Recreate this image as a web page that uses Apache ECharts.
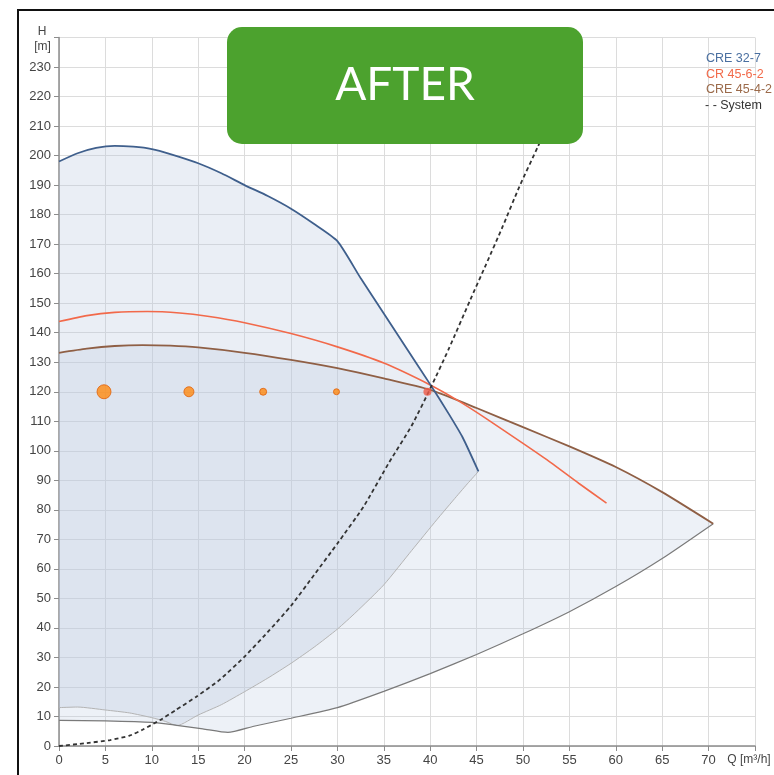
<!DOCTYPE html>
<html><head><meta charset="utf-8">
<script src="https://cdn.jsdelivr.net/npm/echarts@6/dist/echarts.min.js"></script>
<style>html,body{margin:0;padding:0;background:#fff}#c{width:774px;height:775px}</style>
</head><body><div id="c"></div>
<script>
// ---- data (Q [m3/h], H [m]) ----
const cre327 = [[0,198],[2,200.8],[4,202.6],[6,203.3],[8,203],[10,202.2],[12,200.5],[15,197.4],[17.5,194],[20,190],[22.5,186.3],[25,182],[27.5,176.8],[30,171],[32.5,158.5],[35,146.5],[37.5,134.5],[40,122.5],[42,112.5],[43.5,104.5],[45.2,93]];
const cre327Lower = [[45.2,93],[44,88.8],[42.5,83.3],[40.7,76.6],[38,66.2],[35,54.6],[32,45.3],[30,39.6],[27.5,33.5],[25,28],[22.5,23],[20,18.4],[17.5,14],[15,10.5],[12.7,6.9]];
const cre327Left = [[12.7,6.9],[11.5,8.3],[10,9.6],[7.6,11.2],[5,12.2],[2,13.2],[0,13]];
const cr4562 = [[0,143.8],[3,145.8],[6,146.9],[9.5,147.2],[13,146.7],[16,145.6],[20,143.4],[25,139.7],[30,135.2],[35,129.7],[40,122.3],[43,117],[46,111],[50,102.5],[53,96],[56,89],[59,82.3]];
const cre4542 = [[0,133.2],[3,134.6],[6,135.5],[9,135.8],[12,135.6],[15,135],[20,133.2],[25,130.8],[30,128],[35,124.5],[40,120.6],[45,114.5],[50,108],[55,101.5],[60,94.5],[65,86],[70.5,75.3]];
const cre4542Lower = [[0,8.7],[5,8.5],[10,8.0],[12.7,7.0],[15.5,5.8],[18.2,4.6],[21,6.7],[25,9.4],[30,13],[35,18.5],[40,24.5],[45,31],[50,38],[55,45.5],[60,54],[65,63.5],[70.5,75.3]];
const systemCurve = [[0,0],[3,1],[5.5,2],[7.6,3.5],[9,5.5],[10.9,8.8],[12.5,12],[14.8,16.7],[17.3,22.4],[20,30.3],[22.7,39.3],[25,47.5],[27.5,58],[30,68.6],[32.8,81],[35.6,96.2],[38,108.5],[40.1,121.7],[42,134.5],[44.3,151],[46,163],[47.8,175.9],[49.6,189.4],[51.6,203],[54,220]];
const dutyPoints = [[4.85,120],[14,120],[22,120],[29.9,120]];
const operatingPoint = [[39.7,120]];
const legendNames = ['CRE 32-7','CR 45-6-2','CRE 45-4-2','- - System'];
const xAxisName = 'Q [m³/h]';
const badgeText = 'AFTER';

// ---- styles ----
const dutySizes = [14,10,7,6];
const FONT = '"Liberation Sans", Arial, sans-serif';
const region1 = cre327.concat(cre327Lower.slice(1), cre327Left.slice(1));
const region2 = cre4542.concat(cre4542Lower.slice().reverse().slice(1));

function area(points, color, z) {
  return {
    type: 'custom', silent: true, z: z, clip: true,
    data: [[0, 0]],
    renderItem: function (params, api) {
      return { type: 'polygon', shape: { points: points.map(p => api.coord(p)) }, style: { fill: color } };
    }
  };
}
function line(data, color, width, z, type) {
  return {
    type: 'line', data: data, symbol: 'none', smooth: 0.2, z: z, silent: true,
    lineStyle: { color: color, width: width, type: type || 'solid' }
  };
}

const chart = echarts.init(document.getElementById('c'));
chart.setOption({
  animation: false,
  backgroundColor: '#fff',
  grid: { left: 59, right: 19, top: 37.5, bottom: 29, containLabel: false, outerBoundsMode: 'none' },
  xAxis: {
    type: 'value', min: 0, max: 75, interval: 5,
    axisLine: { show: true, lineStyle: { color: '#8c8c8c', width: 1.5 } },
    axisTick: { show: true, length: 5, lineStyle: { color: '#8c8c8c' } },
    splitLine: { show: true, lineStyle: { color: '#dcdcdc', width: 1 } },
    axisLabel: { color: '#444', fontFamily: FONT, fontSize: 13, margin: 8, showMaxLabel: true, showMinLabel: true,
      formatter: v => v === 75 ? '{q|' + xAxisName + '}' : String(v),
      rich: { q: { fontSize: 12, fontFamily: FONT, color: '#444', padding: [0, 12, 0, 0] } } }
  },
  yAxis: {
    type: 'value', min: 0, max: 240, interval: 10,
    axisLine: { show: true, lineStyle: { color: '#8c8c8c', width: 1.5 } },
    axisTick: { show: true, length: 5, lineStyle: { color: '#8c8c8c' } },
    splitLine: { show: true, lineStyle: { color: '#dcdcdc', width: 1 } },
    axisLabel: { color: '#444', fontFamily: FONT, fontSize: 13, margin: 8, showMaxLabel: true,
      formatter: v => v === 240 ? '' : String(v) }
  },
  series: [
    area(region2, 'rgba(185,200,222,0.25)', 1),
    area(region1, 'rgba(185,200,222,0.3)', 2),
    line(cre327Lower.concat(cre327Left.slice(1)), '#b4b4b4', 1, 3),
    line(cre4542Lower, '#7a7a7a', 1.2, 3),
    line(cre4542, '#8f5f45', 1.8, 5),
    line(cr4562, '#f2694a', 1.6, 6),
    line(cre327, '#3f5f8c', 1.8, 7),
    line(systemCurve, '#333', 1.8, 8, [4, 3]),
    {
      type: 'scatter', data: dutyPoints, z: 9, silent: true,
      symbolSize: (v, p) => dutySizes[p.dataIndex],
      itemStyle: { color: '#ff8a10', borderColor: '#e0600a', borderWidth: 1 }
    },
    {
      type: 'scatter', data: operatingPoint, z: 9, silent: true, symbolSize: 8,
      itemStyle: { color: '#f05a46' }
    }
  ],
  graphic: [
    { type: 'rect', z: 100, silent: true, shape: { x: 18, y: 10, width: 800, height: 800 }, style: { fill: 'none', stroke: '#111', lineWidth: 2 } },
    { type: 'text', z: 100, x: 42, y: 32, style: { text: 'H', fill: '#444', font: '12px ' + FONT, align: 'center', verticalAlign: 'middle' } },
    { type: 'text', z: 100, x: 42.5, y: 47, style: { text: '[m]', fill: '#444', font: '12px ' + FONT, align: 'center', verticalAlign: 'middle' } },
    { type: 'text', z: 100, x: 706, y: 59, style: { text: legendNames[0], fill: '#4a6fa0', font: '12.5px ' + FONT, verticalAlign: 'middle' } },
    { type: 'text', z: 100, x: 706, y: 74.5, style: { text: legendNames[1], fill: '#f26a4a', font: '12.5px ' + FONT, verticalAlign: 'middle' } },
    { type: 'text', z: 100, x: 706, y: 90, style: { text: legendNames[2], fill: '#9b6a4a', font: '12.5px ' + FONT, verticalAlign: 'middle' } },
    { type: 'text', z: 100, x: 705, y: 106, style: { text: legendNames[3], fill: '#333', font: '12.5px ' + FONT, verticalAlign: 'middle' } },
    { type: 'rect', z: 110, silent: true, shape: { x: 227, y: 27, width: 356, height: 117, r: 15 }, style: { fill: '#4ca22e' } },
    { type: 'text', z: 111, x: 405, y: 85, style: { text: badgeText, fill: '#fff', font: '46px Lato, "Open Sans", sans-serif', align: 'center', verticalAlign: 'middle' } }
  ]
});
</script></body></html>
